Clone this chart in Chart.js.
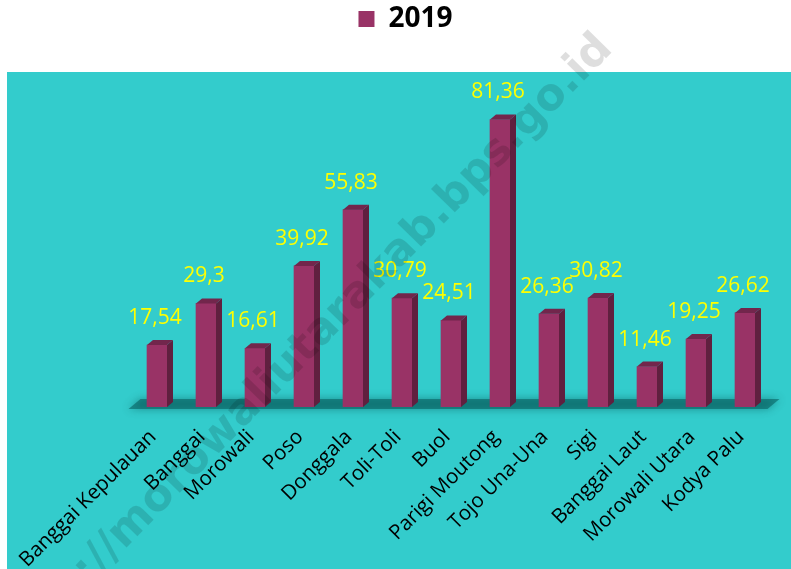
<!DOCTYPE html>
<html>
<head>
<meta charset="utf-8">
<script src="https://cdn.jsdelivr.net/npm/chart.js@4/dist/chart.umd.min.js"></script>
<style>
html,body{margin:0;padding:0;background:#fff;}
#wrap{width:791px;height:569px;position:relative;}
</style>
</head>
<body>
<div id="wrap"><canvas id="c" width="791" height="569"></canvas></div>
<script>
const categories = ["Banggai Kepulauan","Banggai","Morowali","Poso","Donggala","Toli-Toli","Buol","Parigi Moutong","Tojo Una-Una","Sigi","Banggai Laut","Morowali Utara","Kodya Palu"];
const values2019 = [17.54,29.3,16.61,39.92,55.83,30.79,24.51,81.36,26.36,30.82,11.46,19.25,26.62];
const seriesName = "2019";
const watermark = "http://morowaliutarakab.bps.go.id";

const FONT = "'Open Sans', 'Noto Sans', sans-serif";

const bgPlugin = {
  id: 'bg',
  beforeDraw(chart) {
    const ctx = chart.ctx;
    ctx.save();
    ctx.fillStyle = '#ffffff';
    ctx.fillRect(0, 0, chart.width, chart.height);
    ctx.fillStyle = '#33CCCC';
    ctx.fillRect(7, 72, chart.width - 7, chart.height - 72);
    ctx.restore();
  },
  beforeDatasetsDraw(chart) {
    const ctx = chart.ctx;
    const a = chart.chartArea;
    const base = chart.scales.y.getPixelForValue(0);
    ctx.save();
    ctx.fillStyle = 'rgba(0,80,80,0.5)';
    ctx.shadowColor = 'rgba(0,70,70,0.9)';
    ctx.shadowBlur = 8;
    ctx.beginPath();
    ctx.moveTo(a.left - 4, base + 2);
    ctx.lineTo(a.left + 8, base - 8);
    ctx.lineTo(a.right + 10, base - 8);
    ctx.lineTo(a.right - 2, base + 2);
    ctx.closePath();
    ctx.fill();
    ctx.restore();
  },
  afterDatasetsDraw(chart) {
    const ctx = chart.ctx;
    const meta = chart.getDatasetMeta(0);
    const dx = 6, dy = 5;
    ctx.save();
    meta.data.forEach((bar, i) => {
      const p = bar.getProps(['x','y','base','width'], true);
      const l = p.x - p.width / 2, r = p.x + p.width / 2;
      ctx.fillStyle = '#60203F';
      ctx.beginPath();
      ctx.moveTo(r, p.y);
      ctx.lineTo(r + dx, p.y - dy);
      ctx.lineTo(r + dx, p.base - dy);
      ctx.lineTo(r, p.base);
      ctx.closePath();
      ctx.fill();
      ctx.fillStyle = '#72264C';
      ctx.beginPath();
      ctx.moveTo(l, p.y);
      ctx.lineTo(l + dx, p.y - dy);
      ctx.lineTo(r + dx, p.y - dy);
      ctx.lineTo(r, p.y);
      ctx.closePath();
      ctx.fill();
      ctx.fillStyle = '#FFFF00';
      ctx.font = "21px " + FONT;
      ctx.textAlign = 'center';
      ctx.textBaseline = 'alphabetic';
      ctx.fillText(String(values2019[i]).replace('.', ','), p.x - 2, p.y - 21);
    });
    ctx.restore();
  },
  afterDraw(chart) {
    const ctx = chart.ctx;
    ctx.save();
    ctx.translate(614, 50);
    ctx.rotate(-Math.PI / 4 - 0.01);
    ctx.font = "bold 44px 'DejaVu Sans', sans-serif";
    ctx.fillStyle = 'rgba(0,0,0,0.13)';
    ctx.textAlign = 'right';
    ctx.textBaseline = 'alphabetic';
    ctx.fillText(watermark, 0, 0);
    ctx.restore();
  }
};

new Chart(document.getElementById('c'), {
  type: 'bar',
  data: {
    labels: categories,
    datasets: [{
      label: seriesName,
      data: values2019,
      backgroundColor: '#993366',
      borderWidth: 0,
      barThickness: 20
    }]
  },
  options: {
    responsive: false,
    animation: false,
    layout: { padding: { left: 20, right: 0, top: 1, bottom: 0 } },
    plugins: {
      legend: {
        position: 'top',
        labels: {
          boxWidth: 16, boxHeight: 16, padding: 4,
          color: '#000',
          font: { size: 28, weight: 'bold', family: FONT }
        }
      },
      tooltip: { enabled: false }
    },
    scales: {
      x: {
        grid: { display: false },
        border: { display: false },
        ticks: {
          color: '#000',
          font: { size: 20.5, family: FONT },
          maxRotation: 45, minRotation: 45,
          autoSkip: false,
          padding: 10,
          labelOffset: -4
        },
        afterFit(s) { s.height = 162; }
      },
      y: {
        min: 0, max: 103,
        grid: { display: false },
        border: { display: false },
        ticks: { display: false },
        afterFit(s) { s.width = 112.5; }
      },
      y2: {
        type: 'linear',
        position: 'right',
        grid: { display: false },
        border: { display: false },
        ticks: { display: false },
        afterFit(s) { s.width = 21.5; }
      }
    }
  },
  plugins: [bgPlugin]
});
</script>
</body>
</html>
